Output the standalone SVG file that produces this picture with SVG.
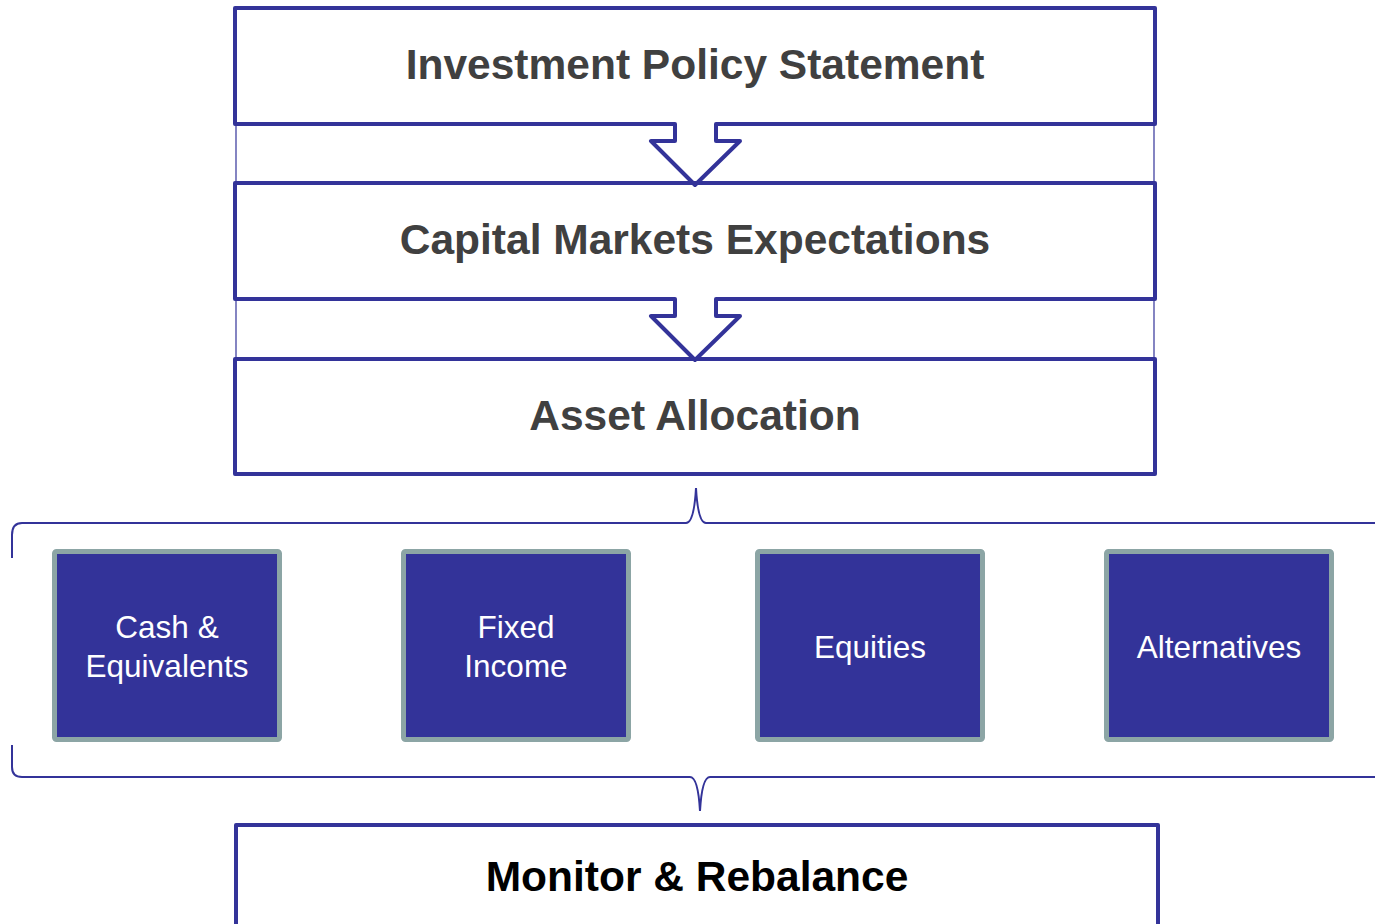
<svg xmlns="http://www.w3.org/2000/svg" width="1375" height="924" viewBox="0 0 1375 924">
<style>
.frame{fill:none;stroke:#333399;stroke-width:4;stroke-linejoin:round}
.thin{fill:none;stroke:#333399;stroke-width:1.2}
.brace{fill:none;stroke:#333399;stroke-width:2}
.cat{fill:#333399;stroke:#8CA5A5;stroke-width:5}
.title{font-family:"Liberation Sans",Arial,sans-serif;font-weight:bold;font-size:42.5px;fill:#404040;text-anchor:middle}
.title2{font-family:"Liberation Sans",Arial,sans-serif;font-weight:bold;font-size:42.5px;fill:#000;text-anchor:middle}
.lbl{font-family:"Liberation Sans",Arial,sans-serif;font-size:31.5px;fill:#fff;text-anchor:middle}
</style>
<rect width="1375" height="924" fill="#fff"/>
<g id="connectors">
<line class="thin" x1="236" y1="124" x2="236" y2="183"/>
<line class="thin" x1="1154" y1="124" x2="1154" y2="183"/>
<line class="thin" x1="236" y1="299" x2="236" y2="359"/>
<line class="thin" x1="1154" y1="299" x2="1154" y2="359"/>
<path class="brace" d="M12,558 V535 Q12,523 22,523 H686 Q694,523 696,488 Q698,523 706,523 H1380"/>
<path class="brace" d="M12,745 V767 Q12,777 22,777 H690 Q698,777 700,811 Q702,777 710,777 H1380"/>
</g>
<g id="ips">
<path class="frame" d="M235,124 V8 H1155 V124 H716 V141 H740 L695,185 L651,141 H675 V124 Z"/>
<text class="title" x="695" y="79">Investment Policy Statement</text>
</g>
<g id="cme">
<path class="frame" d="M235,299 V183 H1155 V299 H716 V316 H740 L695,360 L651,316 H675 V299 Z"/>
<text class="title" x="695" y="254">Capital Markets Expectations</text>
</g>
<g id="aa">
<rect class="frame" x="235" y="359" width="920" height="115"/>
<text class="title" x="695" y="430">Asset Allocation</text>
</g>
<g id="cash">
<rect class="cat" x="54.5" y="551.5" width="225" height="188" rx="2"/>
<text class="lbl" x="167" y="638">Cash &amp;</text>
<text class="lbl" x="167" y="677">Equivalents</text>
</g>
<g id="fixed">
<rect class="cat" x="403.5" y="551.5" width="225" height="188" rx="2"/>
<text class="lbl" x="516" y="638">Fixed</text>
<text class="lbl" x="516" y="677">Income</text>
</g>
<g id="equities">
<rect class="cat" x="757.5" y="551.5" width="225" height="188" rx="2"/>
<text class="lbl" x="870" y="658">Equities</text>
</g>
<g id="alternatives">
<rect class="cat" x="1106.5" y="551.5" width="225" height="188" rx="2"/>
<text class="lbl" x="1219" y="658">Alternatives</text>
</g>
<g id="monitor">
<rect class="frame" x="236" y="825" width="922" height="110"/>
<text class="title2" x="697" y="891">Monitor &amp; Rebalance</text>
</g>
</svg>
